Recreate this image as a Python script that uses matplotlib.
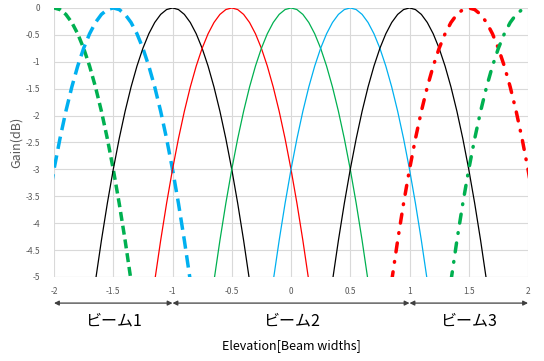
import numpy as np
import matplotlib.pyplot as plt

plt.rcParams['font.family'] = ['Noto Sans CJK JP', 'DejaVu Sans']

# beam centres (in beam widths)
centers = [-2.0, -1.5, -1.0, -0.5, 0.0, 0.5, 1.0, 1.5, 2.0]
colors = ['#00B050', '#00B0F0', 'black', '#FF0000', '#00B050',
          '#00B0F0', 'black', '#FF0000', '#00B050']
styles = ['dash_s', 'dash_l', 'solid', 'solid', 'solid',
          'solid', 'solid', 'dashdot', 'dashdot']

# beam shape: gain (dB) vs offset from centre
offsets = [-0.65, -0.6, -0.55, -0.5, -0.45, -0.4, -0.35, -0.3, -0.25, -0.2,
           -0.15, -0.1, -0.05, 0.0, 0.05, 0.1, 0.15, 0.2, 0.25, 0.3, 0.35,
           0.4, 0.45, 0.5, 0.55, 0.6, 0.65]
gains = [-5.07, -4.32, -3.63, -3.0, -2.43, -1.92, -1.47, -1.08, -0.75, -0.48,
         -0.27, -0.12, -0.03, 0.0, -0.03, -0.12, -0.27, -0.48, -0.75, -1.08,
         -1.47, -1.92, -2.43, -3.0, -3.63, -4.32, -5.07]

beam_labels = ['ビーム1', 'ビーム2', 'ビーム3']
beam_ranges = [(-2, -1), (-1, 1), (1, 2)]

fig = plt.figure(figsize=(5.44, 3.61), dpi=100)
ax = fig.add_axes([0.0993, 0.2327, 0.8713, 0.7453])

off = np.array(offsets)
for c, col, st in zip(centers, colors, styles):
    x = c + off
    if st == 'solid':
        ax.plot(x, gains, color=col, lw=0.9)
    elif st == 'dash_s':
        ax.plot(x, gains, color=col, lw=2.5, dashes=[2.6, 1.4])
    elif st == 'dash_l':
        ax.plot(x, gains, color=col, lw=2.5, dashes=[3.6, 1.9])
    else:
        ax.plot(x, gains, color=col, lw=2.5, dashes=[2.6, 2.8, 0.2, 2.8],
                dash_capstyle='round')

ax.set_xlim(-2, 2)
ax.set_ylim(-5, 0)
ax.set_xticks(np.arange(-2, 2.01, 0.5))
ax.set_yticks(np.arange(-5, 0.01, 0.5))
ax.set_xticklabels(['-2', '-1.5', '-1', '-0.5', '0', '0.5', '1', '1.5', '2'])
ax.set_yticklabels(['-5', '-4.5', '-4', '-3.5', '-3', '-2.5', '-2', '-1.5',
                    '-1', '-0.5', '0'])
ax.tick_params(length=0, labelsize=6, labelcolor='#595959')
ax.tick_params(axis='y', pad=10)
ax.tick_params(axis='x', pad=7)
ax.grid(True, color='#D9D9D9', lw=0.8)
ax.set_axisbelow(True)
for s in ax.spines.values():
    s.set_visible(False)
ax.axhline(-5, color='#D9D9D9', lw=0.8, zorder=0)

ax.set_ylabel('Gain(dB)', fontsize=9, color='#595959', labelpad=2)

for lab, (a, b) in zip(beam_labels, beam_ranges):
    ax.annotate('', xy=(a, -0.097), xytext=(b, -0.097),
                xycoords=('data', 'axes fraction'),
                textcoords=('data', 'axes fraction'),
                arrowprops=dict(arrowstyle='<|-|>', color='#404040', lw=0.9,
                                mutation_scale=7, shrinkA=0, shrinkB=0),
                annotation_clip=False)
    ax.text((a + b) / 2, -0.165, lab, transform=ax.get_xaxis_transform(),
            ha='center', va='center', fontsize=11.5, color='black')

fig.text(0.535, 0.043, 'Elevation[Beam widths]', ha='center', va='center',
         fontsize=9, color='black')

fig.savefig('out.png', dpi=100)
